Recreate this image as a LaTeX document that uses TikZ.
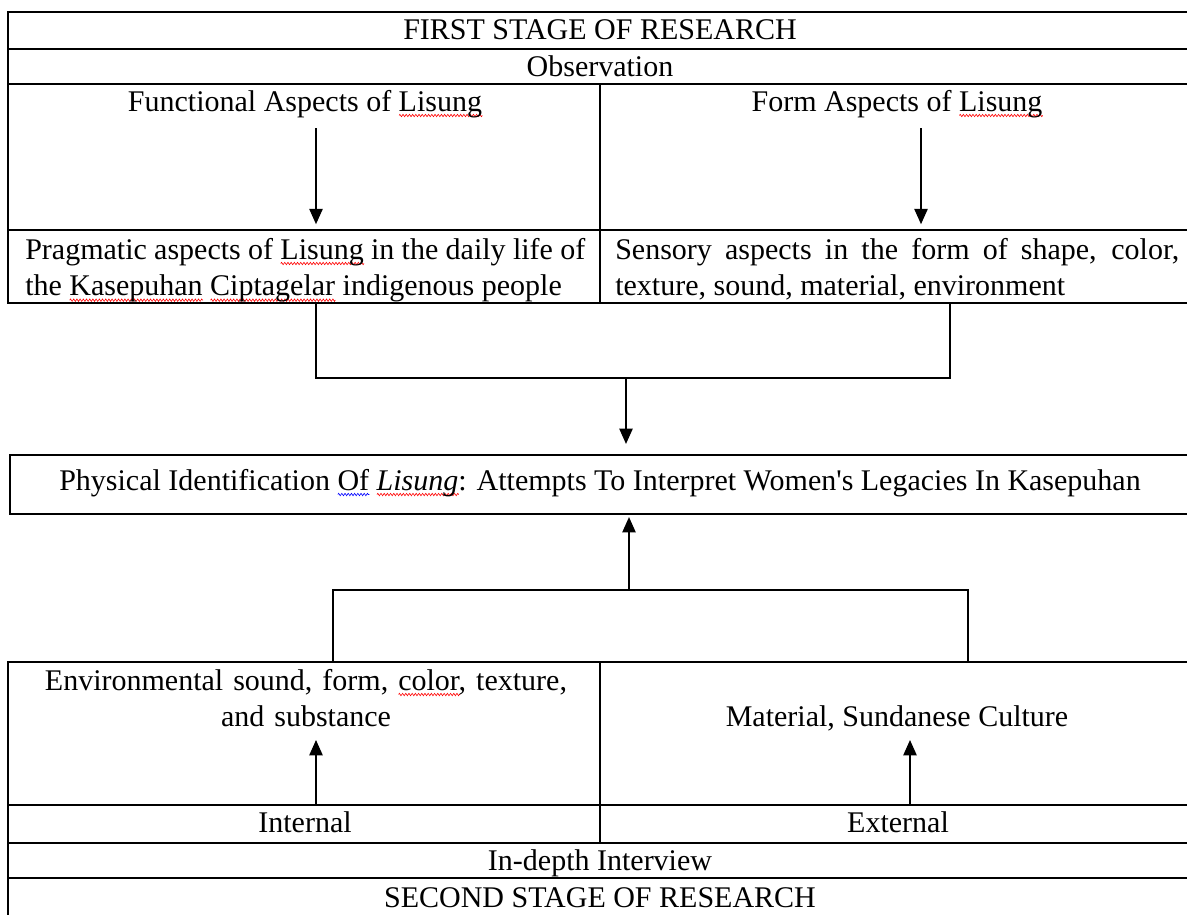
\documentclass[tikz,border=0pt]{standalone}
\usepackage{fontspec}
\setmainfont{Liberation Serif}[Ligatures=TeXOff]
\usetikzlibrary{arrows.meta,fit,decorations.pathmorphing}
\newlength\sqw
\newcommand{\sqc}[2]{\settowidth\sqw{#2}\rlap{\raisebox{-4.5pt}{\tikz[x=1pt,y=1pt]\draw[#1,line width=0.45pt,decorate,decoration={zigzag,amplitude=0.9pt,segment length=2.4pt}] (0,0) -- (\the\sqw,0);}}#2}
\newcommand{\sqr}[1]{\sqc{red}{#1}}
\newcommand{\sqb}[1]{\sqc{blue}{#1}}
\newcommand{\mainsz}{\fontsize{22.5}{27.5}\selectfont}
\begin{document}
\begin{tikzpicture}[x=0.75pt,y=-0.75pt,
  cell/.style={draw=black, line width=1.2pt, inner sep=0pt},
  txt/.style={inner sep=0pt, anchor=base, font=\mainsz},
  arr/.style={-{Triangle[length=11.5pt,width=10pt]}, line width=1.1pt},
  conn/.style={line width=1.1pt}]
\useasboundingbox (0,0) rectangle (1187,914);
\clip (0,0) rectangle (1187,914);
\fill[white] (0,0) rectangle (1187,914);
% top table
\node[cell, fit={(8,12)(1196,49)}] (r1) {};
\node[cell, fit={(8,49)(1196,84)}] (r2) {};
\node[cell, fit={(8,84)(600,230)}] (r3l) {};
\node[cell, fit={(600,84)(1196,230)}] (r3r) {};
\node[cell, fit={(8,230)(600,303)}] (pragcell) {};
\node[cell, fit={(600,230)(1196,303)}] (senscell) {};
% main box
\node[cell, line width=1.6pt, fit={(10,455)(1196,514)}] (main) {};
% bottom table
\node[cell, fit={(8,662)(600,805)}] (b1l) {};
\node[cell, fit={(600,662)(1196,805)}] (b1r) {};
\node[cell, fit={(8,805)(600,843)}] (b2l) {};
\node[cell, fit={(600,805)(1196,843)}] (b2r) {};
\node[cell, fit={(8,843)(1196,878)}] (b3) {};
\node[cell, fit={(8,878)(1196,925)}] (b4) {};
% texts
\node[txt] (t1) at (600,39) {FIRST STAGE OF RESEARCH};
\node[txt] (t2) at (600,76) {Observation};
\node[txt] (fa) at (305,111) {Functional Aspects of \sqr{Lisung}};
\node[txt] (fo) at (897,111) {Form Aspects of \sqr{Lisung}};
\node[txt, anchor=base west, text width=420pt, align=justify] (pr) at (25,259)
  {Pragmatic aspects of \sqr{Lisung} in the daily life of\linebreak the \sqr{Kasepuhan} \sqr{Ciptagelar} indigenous people};
\node[txt, anchor=base west, text width=423pt, align=justify] (se) at (615,259)
  {Sensory aspects in the form of shape, color,\linebreak texture, sound, material, environment};
\node[txt] (ph) at (600,490) {Physical Identification \sqb{Of} \sqr{\textit{Lisung}}: Attempts To Interpret Women's Legacies In Kasepuhan};
\node[txt, text width=430pt, align=center] (env) at (306,690) {Environmental sound, form, \sqr{color}, texture,\\ and substance};
\node[txt] (mat) at (897,726) {Material, Sundanese Culture};
\node[txt] (int) at (305,832) {Internal};
\node[txt] (ext) at (898,832) {External};
\node[txt] (idi) at (600,870) {In-depth Interview};
\node[txt] (t3) at (600,907) {SECOND STAGE OF RESEARCH};
% arrows top
\coordinate (a1) at (316,128);
\coordinate (a2) at (921,128);
\draw[arr, shorten >=3.75pt] (a1) -- (a1 |- pragcell.north);
\draw[arr, shorten >=3.75pt] (a2) -- (a2 |- senscell.north);
% connector to main
\coordinate (c1) at (316,378);
\coordinate (c2) at (950,378);
\coordinate (j1) at (626,378);
\draw[conn] (c1 |- pragcell.south) -- (c1) -- (c2) -- (c2 |- senscell.south);
\draw[arr, shorten >=7.5pt] (j1) -- (j1 |- main.north);
% connector from bottom
\coordinate (j2) at (629,590);
\coordinate (d1) at (333,590);
\coordinate (d2) at (968,590);
\draw[arr, shorten >=1.5pt] (j2) -- (j2 |- main.south);
\draw[conn] (d1 |- b1l.north) -- (d1) -- (d2) -- (d2 |- b1r.north);
% bottom arrows
\coordinate (e1) at (316,740);
\coordinate (e2) at (910,740);
\draw[arr] (e1 |- b2l.north) -- (e1);
\draw[arr] (e2 |- b2r.north) -- (e2);
\end{tikzpicture}
\end{document}
